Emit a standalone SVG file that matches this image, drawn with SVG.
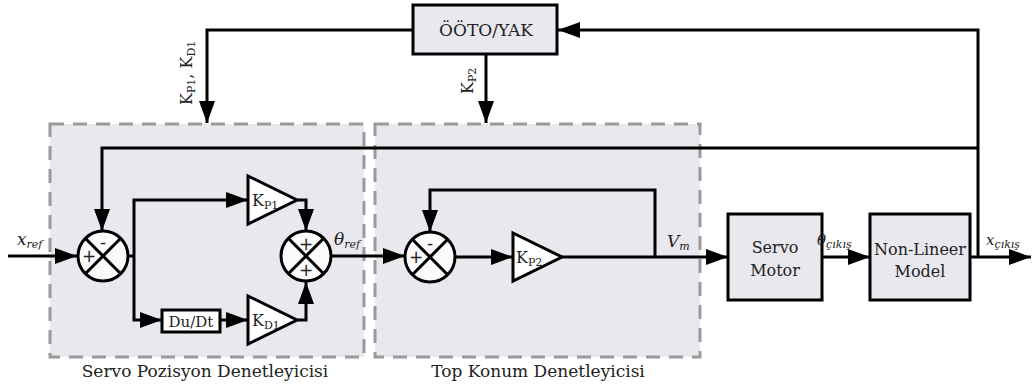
<svg xmlns="http://www.w3.org/2000/svg" width="1034" height="384" viewBox="0 0 1034 384">
<defs>
<marker id="ah" markerUnits="userSpaceOnUse" markerWidth="24" markerHeight="18" refX="22" refY="8" orient="auto">
<path d="M0,0 L22,8 L0,16 Z" fill="#000"/>
</marker>
<style>
.region{fill:#e9e8ef;stroke:#9a9a9a;stroke-width:3;stroke-dasharray:14 9}
.blk{fill:#e9e8ef;stroke:#000;stroke-width:3}
.wht{fill:#fff;stroke:#000;stroke-width:3}
.sum{fill:#fbfbfd;stroke:#000;stroke-width:3}
.ln{fill:none;stroke:#000;stroke-width:3}
.arr{fill:none;stroke:#000;stroke-width:3;marker-end:url(#ah)}
text{font-family:"DejaVu Serif","Liberation Serif",serif;fill:#222}
.t{font-size:16px}
.lbl{font-size:17px;text-anchor:middle}
.it{font-style:italic;font-size:17px}
.sub{font-size:11px}
.sg{font-size:17px;text-anchor:middle;font-family:"DejaVu Sans","Liberation Sans",sans-serif}
</style>
</defs>

<g id="region-servo">
<rect class="region" x="50" y="124" width="314" height="233"/>
<text class="lbl" x="205" y="377">Servo Pozisyon Denetleyicisi</text>
</g>
<g id="region-top">
<rect class="region" x="375" y="124" width="325" height="233"/>
<text class="lbl" x="538" y="377">Top Konum Denetleyicisi</text>
</g>

<g id="connectors">
<!-- OOTO to Kp1,Kd1 -->
<path class="arr" d="M413,30 H207 V123"/>
<!-- OOTO to Kp2 -->
<path class="arr" d="M486,54 V123"/>
<!-- feedback from output to OOTO -->
<path class="arr" d="M978,257 V30 H558"/>
<!-- feedback to sum1 -->
<path class="arr" d="M978,148 H102 V231"/>
<!-- x_ref input -->
<path class="arr" d="M8,256 H77"/>
<!-- sum1 out and branches -->
<path class="ln" d="M128,256 H134"/>
<path class="arr" d="M134,256 V200 H248"/>
<path class="arr" d="M134,256 V320 H162"/>
<path class="arr" d="M220,320 H248"/>
<!-- Kp1 to sum2 -->
<path class="arr" d="M297,200 H306 V231"/>
<!-- Kd1 to sum2 -->
<path class="arr" d="M297,320 H306 V282"/>
<!-- sum2 to sum3 -->
<path class="arr" d="M331,256 H405"/>
<!-- sum3 to Kp2 -->
<path class="arr" d="M455,257 H513"/>
<!-- Kp2 to servo -->
<path class="arr" d="M562,257 H728"/>
<!-- inner feedback -->
<path class="arr" d="M655,257 V190 H430 V232"/>
<!-- servo to nonlinear -->
<path class="arr" d="M822,257 H870"/>
<!-- output -->
<path class="arr" d="M970,257 H1031"/>
</g>

<g id="ooto-yak">
<rect class="blk" x="413" y="5" width="144" height="49"/>
<text class="lbl" x="486" y="36">ÖÖTO/YAK</text>
</g>
<g id="label-kp1kd1">
<text class="t" transform="translate(192,105) rotate(-90)">K<tspan class="sub" dy="3">P1</tspan><tspan dy="-3">, K</tspan><tspan class="sub" dy="3">D1</tspan></text>
</g>
<g id="label-kp2">
<text class="t" transform="translate(473,94) rotate(-90)">K<tspan class="sub" dy="3">P2</tspan></text>
</g>

<g id="sum1">
<circle class="sum" cx="103" cy="256" r="25"/>
<path class="ln" d="M85.3,238.3 L120.7,273.7 M120.7,238.3 L85.3,273.7"/>
<text class="sg" x="89" y="262">+</text>
<text class="sg" x="103" y="248">-</text>
</g>

<g id="kp1">
<path class="wht" d="M248,176 L297,200 L248,224 Z"/>
<text class="t" x="252" y="206">K<tspan class="sub" dy="3">P1</tspan></text>
</g>

<g id="dudt">
<rect class="wht" x="162" y="310" width="58" height="22"/>
<text class="lbl" x="191" y="327" style="font-size:15px">Du/Dt</text>
</g>

<g id="kd1">
<path class="wht" d="M248,296 L297,320 L248,344 Z"/>
<text class="t" x="252" y="326">K<tspan class="sub" dy="3">D1</tspan></text>
</g>

<g id="sum2">
<circle class="sum" cx="306" cy="256" r="25"/>
<path class="ln" d="M288.3,238.3 L323.7,273.7 M323.7,238.3 L288.3,273.7"/>
<text class="sg" x="306" y="250">+</text>
<text class="sg" x="306" y="276">+</text>
</g>
<text class="it" x="334" y="245">θ<tspan class="sub" dy="3">ref</tspan></text>
<text class="it" x="17" y="245">x<tspan class="sub" dy="3">ref</tspan></text>

<g id="sum3">
<circle class="sum" cx="430" cy="257" r="25"/>
<path class="ln" d="M412.3,239.3 L447.7,274.7 M447.7,239.3 L412.3,274.7"/>
<text class="sg" x="416" y="263">+</text>
<text class="sg" x="430" y="249">-</text>
</g>

<g id="kp2">
<path class="wht" d="M513,233 L562,257 L513,281 Z"/>
<text class="t" x="516" y="263">K<tspan class="sub" dy="3">P2</tspan></text>
</g>
<text class="it" x="667" y="247">V<tspan class="sub" dy="3">m</tspan></text>

<g id="servo-motor">
<rect class="blk" x="728" y="214" width="94" height="86"/>
<text class="lbl" x="775" y="253" style="font-size:16px">Servo</text>
<text class="lbl" x="775" y="276" style="font-size:16px">Motor</text>
</g>
<text class="it" x="817" y="245" style="font-size:15px">θ<tspan class="sub" dy="3">çıkış</tspan></text>

<g id="non-lineer-model">
<rect class="blk" x="870" y="214" width="100" height="86"/>
<text class="lbl" x="920" y="255" style="font-size:16px">Non-Lineer</text>
<text class="lbl" x="920" y="277" style="font-size:16px">Model</text>
</g>
<text class="it" x="986" y="245" style="font-size:15px">x<tspan class="sub" dy="3">çıkış</tspan></text>
</svg>
